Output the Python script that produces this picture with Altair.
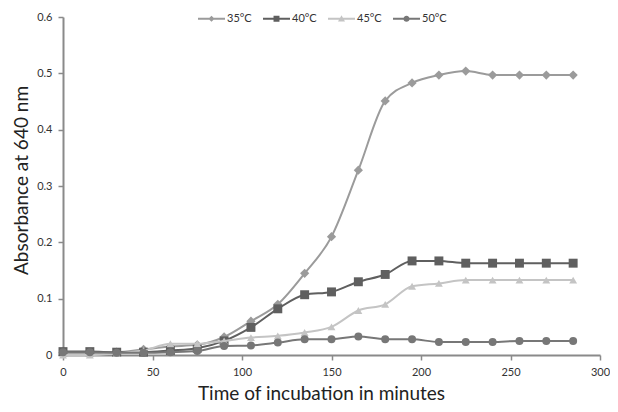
import altair as alt
import pandas as pd

time_min = [0, 15, 30, 45, 60, 75, 90, 105, 120, 135, 150, 165, 180, 195, 210, 225, 240, 255, 270, 285]
abs_35 = [0.004, 0.004, 0.005, 0.010, 0.015, 0.018, 0.032, 0.060, 0.090, 0.145, 0.210, 0.328, 0.451, 0.483, 0.497, 0.504, 0.497, 0.497, 0.497, 0.497]
abs_40 = [0.006, 0.006, 0.005, 0.005, 0.008, 0.012, 0.025, 0.049, 0.082, 0.107, 0.112, 0.130, 0.143, 0.167, 0.167, 0.163, 0.163, 0.163, 0.163, 0.163]
abs_45 = [0.000, 0.000, 0.003, 0.008, 0.020, 0.020, 0.025, 0.031, 0.034, 0.040, 0.050, 0.079, 0.090, 0.122, 0.127, 0.133, 0.133, 0.133, 0.133, 0.133]
abs_50 = [0.005, 0.005, 0.004, 0.004, 0.005, 0.007, 0.016, 0.017, 0.022, 0.028, 0.028, 0.033, 0.028, 0.028, 0.023, 0.023, 0.023, 0.025, 0.025, 0.025]

series_names = ["35°C", "40°C", "45°C", "50°C"]
series_colors = ["#9b9b9b", "#5f5f5f", "#c4c4c4", "#777777"]
series_shapes = ["diamond", "square", "triangle-up", "circle"]
marker_sizes = [85, 80, 62, 64]

# legend symbols: a short line with the marker in the middle (unit coordinates)
_bar = "M-1,-0.075H1V0.075H-1Z"
legend_paths = [
    _bar + "M0,-0.23L0.23,0L0,0.23L-0.23,0Z",
    _bar + "M-0.22,-0.22H0.22V0.22H-0.22Z",
    _bar + "M0,-0.26L0.26,0.2H-0.26Z",
    _bar + "M0.23,0A0.23,0.23 0 1,1 -0.23,0A0.23,0.23 0 1,1 0.23,0Z",
]

rows = []
for name, vals in zip(series_names, [abs_35, abs_40, abs_45, abs_50]):
    for t, v in zip(time_min, vals):
        rows.append({"time": t, "absorbance": v, "series": name})
df = pd.DataFrame(rows)

FONT = "Lato"
AXIS_GRAY = "#8a8a8a"

x_enc = alt.X("time:Q", scale=alt.Scale(domain=[0, 300], nice=False),
              axis=alt.Axis(title="Time of incubation in minutes", values=[0, 50, 100, 150, 200, 250, 300],
                            grid=False, domainColor=AXIS_GRAY, domainWidth=2, tickColor=AXIS_GRAY,
                            tickWidth=1.5, tickSize=5, labelPadding=6, labelFontSize=11,
                            labelFlush=False,
                            titleFontSize=19, titleFontWeight="normal", labelColor="#333",
                            titleColor="#222", titleX=258, titleY=44, titleBaseline="alphabetic",
                            titleAlign="center"))
y_enc = alt.Y("absorbance:Q", scale=alt.Scale(domain=[0, 0.6], nice=False),
              axis=alt.Axis(title="Absorbance at 640 nm", values=[0, 0.1, 0.2, 0.3, 0.4, 0.5, 0.6],
                            labelExpr="datum.value == 0 ? '0' : format(datum.value, '.1f')",
                            grid=False, domainColor=AXIS_GRAY, domainWidth=2, tickColor=AXIS_GRAY,
                            tickWidth=1.5, tickSize=5, labelPadding=6, labelFontSize=11,
                            titleFontSize=19, titleFontWeight="normal", labelColor="#333",
                            titleColor="#222", titleX=-36, titleY=163, titleBaseline="alphabetic",
                            titleAlign="center", titleAngle=270))

base = alt.Chart(df)

layers = []
for i, (name, col, shp, sz) in enumerate(zip(series_names, series_colors, series_shapes, marker_sizes)):
    sub = base.transform_filter(alt.datum.series == name)
    line = sub.mark_line(strokeWidth=2, interpolate="monotone", color=col).encode(
        x=x_enc if i == 0 else alt.X("time:Q"),
        y=y_enc if i == 0 else alt.Y("absorbance:Q"),
    )
    pts = sub.mark_point(filled=True, size=sz, opacity=1, shape=shp, color=col).encode(
        x="time:Q", y="absorbance:Q",
    )
    layers += [line, pts]

legend_kw = dict(title=None, orient="none", direction="horizontal",
                 legendX=135, legendY=-12, padding=0,
                 labelFontSize=11, labelColor="#333", labelOffset=2,
                 columnPadding=11, symbolSize=729, symbolStrokeWidth=0)

legend_layer = base.transform_filter("false").mark_point(filled=True, opacity=1, size=729).encode(
    x="time:Q", y="absorbance:Q",
    fill=alt.Fill("series:N", scale=alt.Scale(domain=series_names, range=series_colors),
                  legend=alt.Legend(**legend_kw)),
    shape=alt.Shape("series:N", scale=alt.Scale(domain=series_names, range=legend_paths),
                    legend=alt.Legend(**legend_kw)),
)

chart = alt.layer(*layers, legend_layer).properties(
    width=537, height=338,
    autosize=alt.AutoSizeParams(type="none"),
    padding={"left": 55, "top": 9, "right": 10, "bottom": 49},
).configure(font=FONT).configure_view(stroke=None)

chart.save("out.html", embed_options={"renderer": "svg", "actions": False})
